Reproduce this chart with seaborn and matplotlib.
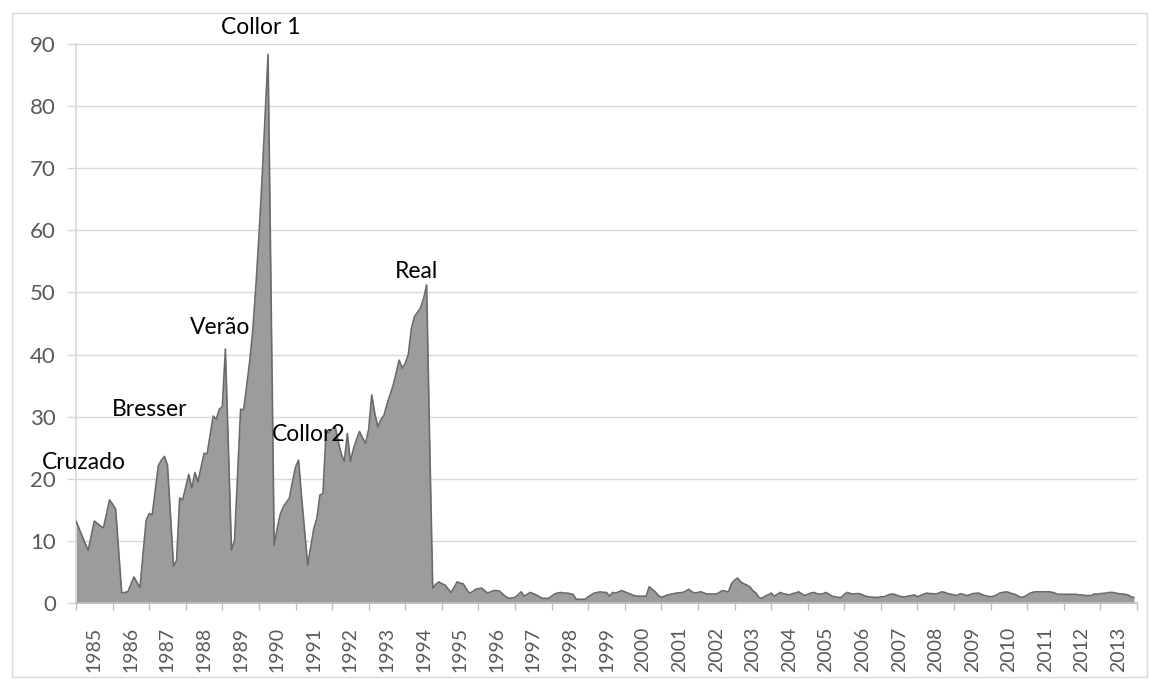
import matplotlib
matplotlib.use("Agg")
import matplotlib.pyplot as plt
import numpy as np
import pandas as pd
import seaborn as sns
from matplotlib.patches import Rectangle

# monthly rate (Jan 1985 .. Dec 2013)
vals_1985_1989 = [
    13.2, 12.0, 10.8, 9.6, 8.5, 10.8, 13.2, 12.8, 12.4, 12.1, 14.3, 16.6,
    15.9, 15.1, 8.3, 1.6, 1.7, 1.8, 3.0, 4.2, 3.3, 2.5, 7.9, 13.3,
    14.4, 14.2, 18.2, 22.1, 23.0, 23.6, 22.2, 14.0, 5.9, 6.9, 16.9, 16.6,
    18.7, 20.7, 18.5, 21.0, 19.5, 21.8, 24.1, 24.0, 27.0, 30.1, 29.6, 31.2,
    31.6, 40.9, 24.7, 8.5, 10.1, 20.6, 31.2, 31.1, 35.0, 39.0, 44.0, 51.0,
]
vals_1990_1994 = [
    59.0, 68.0, 78.0, 88.3, 48.8, 9.3, 12.0, 14.3, 15.5, 16.2, 16.9, 19.5,
    21.9, 23.0, 17.0, 11.5, 6.1, 9.0, 12.0, 13.6, 17.4, 17.6, 27.3, 27.5,
    28.0, 28.4, 26.0, 24.0, 22.8, 27.3, 22.8, 24.8, 26.3, 27.6, 26.6, 25.7,
    28.0, 33.5, 30.5, 28.4, 29.5, 30.2, 32.0, 33.5, 35.0, 37.0, 39.1, 37.8,
    38.6, 40.0, 44.2, 46.1, 46.8, 47.5, 49.0, 51.2, 26.0, 2.4, 3.0, 3.4,
]
vals_1995_1999 = [
    3.1, 2.9, 2.3, 1.7, 2.5, 3.4, 3.2, 3.1, 2.3, 1.6, 1.8, 2.2,
    2.3, 2.4, 2.0, 1.6, 1.8, 2.0, 2.0, 1.9, 1.4, 1.0, 0.75, 0.8,
    0.9, 1.3, 1.8, 1.1, 1.4, 1.7, 1.5, 1.3, 1.0, 0.75, 0.75, 0.75,
    1.1, 1.45, 1.6, 1.7, 1.6, 1.6, 1.5, 1.4, 0.64, 0.6, 0.6, 0.6,
    1.0, 1.3, 1.6, 1.7, 1.8, 1.7, 1.7, 1.1, 1.7, 1.6, 1.8, 2.0,
]
vals_2000_2004 = [
    1.8, 1.6, 1.4, 1.2, 1.1, 1.1, 1.1, 1.1, 2.6, 2.2, 1.8, 1.2,
    0.9, 1.1, 1.3, 1.4, 1.5, 1.6, 1.65, 1.7, 1.9, 2.2, 1.8, 1.6,
    1.7, 1.8, 1.6, 1.45, 1.45, 1.45, 1.45, 1.7, 2.0, 1.9, 1.8, 3.1,
    3.7, 4.0, 3.4, 3.1, 2.9, 2.6, 2.0, 1.6, 0.9, 0.75, 1.1, 1.3,
    1.6, 1.1, 1.4, 1.7, 1.5, 1.4, 1.3, 1.5, 1.6, 1.8, 1.5, 1.2,
]
vals_2005_2009 = [
    1.4, 1.6, 1.7, 1.5, 1.4, 1.5, 1.7, 1.4, 1.1, 1.0, 0.9, 0.9,
    1.4, 1.7, 1.5, 1.45, 1.5, 1.5, 1.3, 1.1, 1.0, 0.95, 0.9, 0.9,
    1.0, 1.0, 1.2, 1.4, 1.45, 1.3, 1.1, 1.0, 1.0, 1.1, 1.2, 1.3,
    1.0, 1.2, 1.4, 1.6, 1.5, 1.5, 1.45, 1.6, 1.8, 1.7, 1.5, 1.4,
    1.3, 1.2, 1.5, 1.4, 1.2, 1.3, 1.5, 1.55, 1.6, 1.4, 1.2, 1.1,
]
vals_2010_2013 = [
    1.0, 1.1, 1.3, 1.6, 1.7, 1.8, 1.7, 1.5, 1.4, 1.1, 0.9, 1.0,
    1.3, 1.6, 1.75, 1.8, 1.8, 1.8, 1.8, 1.8, 1.75, 1.6, 1.4, 1.4,
    1.4, 1.4, 1.4, 1.4, 1.4, 1.3, 1.3, 1.2, 1.2, 1.2, 1.45, 1.4,
    1.5, 1.55, 1.6, 1.7, 1.7, 1.6, 1.5, 1.45, 1.4, 1.3, 1.0, 0.9,
]

years = list(range(1985, 2014))

# plan names and where they sit (month index, value)
plan_names = ["Cruzado", "Bresser", "Verão", "Collor 1", "Collor2", "Real"]
plan_month = [2.5, 24.3, 47.2, 60.7, 76.4, 111.8]
plan_value = [22.7, 31.1, 44.4, 92.6, 27.1, 53.3]

values = (vals_1985_1989 + vals_1990_1994 + vals_1995_1999
          + vals_2000_2004 + vals_2005_2009 + vals_2010_2013)
df = pd.DataFrame({"month": np.arange(len(values)), "value": values})

sns.set_theme(style="white")
plt.rcParams["font.family"] = ["Lato", "DejaVu Sans"]

fig = plt.figure(figsize=(11.5, 6.79), dpi=100)
ax = fig.add_axes([76 / 1150, 1 - 603 / 679, (1137 - 76) / 1150, (603 - 44) / 679])

ax.fill_between(df["month"], 0, df["value"], color="#9c9c9c", linewidth=0, zorder=2)
sns.lineplot(data=df, x="month", y="value", ax=ax, color="#6a6a6a", linewidth=1.2, zorder=3)

ax.set_xlim(0, 12 * len(years))
ax.set_ylim(0, 90)
ax.set_yticks(range(0, 91, 10))
ax.yaxis.grid(True, color="#d9d9d9", linewidth=1)
ax.set_axisbelow(True)

# year boundaries as major ticks, year names in between
ax.set_xticks([12 * i for i in range(len(years) + 1)])
ax.set_xticklabels([])
ax.set_xticks([12 * i + 6 for i in range(len(years))], minor=True)
ax.set_xticklabels([str(y) for y in years], minor=True, rotation=90)
ax.tick_params(axis="x", which="major", length=5, width=1, color="#bfbfbf", direction="out", bottom=True)
ax.tick_params(axis="x", which="minor", length=0, pad=17, labelsize=14, labelcolor="#595959")
ax.tick_params(axis="y", length=6.5, width=1, color="#d9d9d9", direction="out", left=True,
               pad=8, labelsize=16, labelcolor="#595959")

for s in ["top", "right"]:
    ax.spines[s].set_visible(False)
ax.spines["left"].set_color("#d9d9d9")
ax.spines["bottom"].set_color("#bfbfbf")
ax.spines["bottom"].set_linewidth(1.2)
ax.set_xlabel("")
ax.set_ylabel("")

for name, m, v in zip(plan_names, plan_month, plan_value):
    ax.text(m, v, name, ha="center", va="center", fontsize=16.5, color="black", clip_on=False, zorder=5)

fig.patches.append(Rectangle((12 / 1150, 2 / 679), (1147 - 12) / 1150, (677 - 13) / 679,
                             transform=fig.transFigure, fill=False, edgecolor="#d9d9d9", linewidth=1))

plt.savefig("out.png", dpi=100)
